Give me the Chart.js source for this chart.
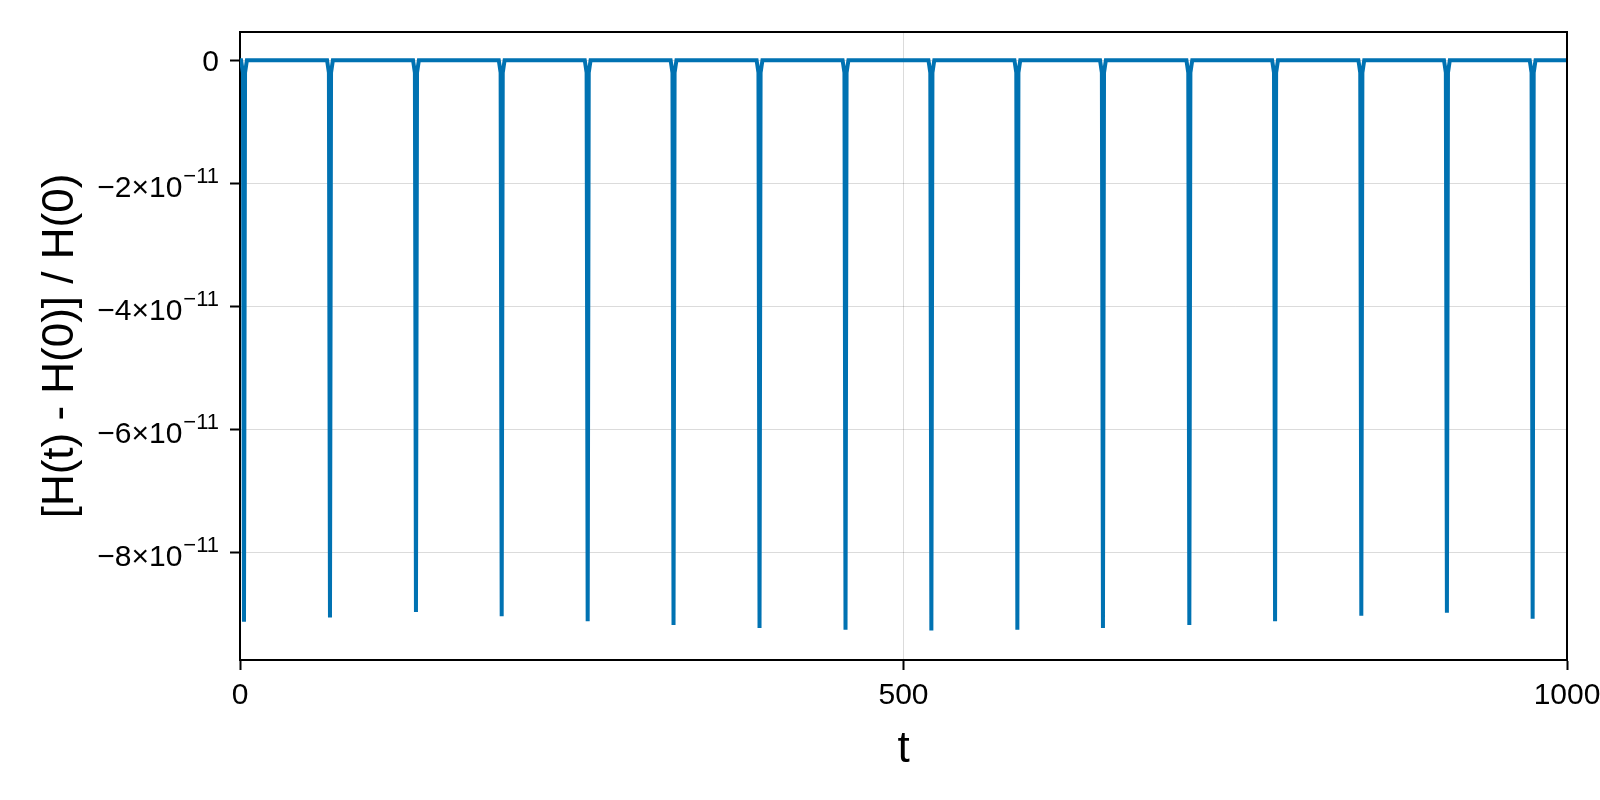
<!DOCTYPE html>
<html lang="en">
<head>
  <meta charset="UTF-8">
  <title>Relative energy error</title>
  <style>
    body {
      margin: 0;
      background: #ffffff;
    }
    #wrap {
      width: 1600px;
      height: 800px;
    }
  </style>
</head>
<body>

<div id="wrap">
  <canvas id="errChart" width="1600" height="800"></canvas>
</div>

<script src="https://cdn.jsdelivr.net/npm/chart.js"></script>
<script>
  // time samples and relative energy error, error in units of 1e-11
  const tVals = [
    0, 0.8, 2.2, 3.0, 3.8, 5.2,
    65.6, 67.0, 67.8, 68.6, 70.0,
    130.4, 131.8, 132.6, 133.4, 134.8,
    195.0, 196.4, 197.2, 198.0, 199.4,
    259.8, 261.2, 262.0, 262.8, 264.2,
    324.5, 325.9, 326.7, 327.5, 328.9,
    389.3, 390.7, 391.5, 392.3, 393.7,
    454.1, 455.5, 456.3, 457.1, 458.5,
    518.8, 520.2, 521.0, 521.8, 523.2,
    583.6, 585.0, 585.8, 586.6, 588.0,
    648.1, 649.5, 650.3, 651.1, 652.5,
    713.2, 714.6, 715.4, 716.2, 717.6,
    777.8, 779.2, 780.0, 780.8, 782.2,
    842.8, 844.2, 845.0, 845.8, 847.2,
    907.3, 908.7, 909.5, 910.3, 911.7,
    971.9, 973.3, 974.1, 974.9, 976.3,
    1000
  ];
  const relErr = [
    0, 0, -0.2, -9.13, -0.2, 0,
    0, -0.2, -9.06, -0.2, 0,
    0, -0.2, -8.97, -0.2, 0,
    0, -0.2, -9.04, -0.2, 0,
    0, -0.2, -9.12, -0.2, 0,
    0, -0.2, -9.18, -0.2, 0,
    0, -0.2, -9.23, -0.2, 0,
    0, -0.2, -9.26, -0.2, 0,
    0, -0.2, -9.27, -0.2, 0,
    0, -0.2, -9.26, -0.2, 0,
    0, -0.2, -9.23, -0.2, 0,
    0, -0.2, -9.18, -0.2, 0,
    0, -0.2, -9.12, -0.2, 0,
    0, -0.2, -9.03, -0.2, 0,
    0, -0.2, -8.98, -0.2, 0,
    0, -0.2, -9.08, -0.2, 0,
    0
  ];
  const xTicks = [0, 500, 1000];
  const yTicks = [-8, -6, -4, -2, 0];
  const yExponent = '−11';

  const FONT = "'Liberation Sans', Arial, sans-serif";

  // y tick labels drawn by hand so the exponent can be a real superscript
  const yLabelPlugin = {
    id: 'yLabels',
    afterDraw(chart) {
      const ctx = chart.ctx;
      const ys = chart.scales.y;
      const rightEdge = 219;
      ctx.save();
      ctx.fillStyle = '#000';
      ctx.textBaseline = 'alphabetic';
      ys.ticks.forEach(tk => {
        const py = ys.getPixelForValue(tk.value);
        if (tk.value === 0) {
          ctx.font = '30px ' + FONT;
          ctx.textAlign = 'right';
          ctx.fillText('0', rightEdge, py + 11);
          return;
        }
        ctx.font = '22px ' + FONT;
        const supW = ctx.measureText(yExponent).width;
        ctx.textAlign = 'left';
        ctx.fillText(yExponent, rightEdge - supW, py);
        ctx.font = '30px ' + FONT;
        ctx.textAlign = 'right';
        const base = (tk.value < 0 ? '−' : '') + Math.abs(tk.value) + '×10';
        ctx.fillText(base, rightEdge - supW - 1, py + 14);
      });
      // top and right frame lines
      const a = chart.chartArea;
      ctx.strokeStyle = '#000';
      ctx.lineWidth = 2;
      ctx.beginPath();
      ctx.moveTo(a.left, a.top);
      ctx.lineTo(a.right, a.top);
      ctx.lineTo(a.right, a.bottom);
      ctx.stroke();
      ctx.restore();
    }
  };

  const points = tVals.map((t, i) => ({ x: t, y: relErr[i] }));

  const ctx = document.getElementById('errChart').getContext('2d');
  const errChart = new Chart(ctx, {
    type: 'line',
    data: {
      datasets: [{
        data: points,
        borderColor: '#0072B2',
        borderWidth: 4,
        pointRadius: 0,
        tension: 0,
        fill: false
      }]
    },
    options: {
      responsive: false,
      animation: false,
      devicePixelRatio: 1,
      layout: { padding: { left: 0, top: 32, right: 33, bottom: 0 } },
      plugins: {
        legend: { display: false },
        tooltip: { enabled: false }
      },
      scales: {
        x: {
          type: 'linear',
          min: 0,
          max: 1000,
          afterBuildTicks: s => { s.ticks = xTicks.map(v => ({ value: v })); },
          afterFit: s => { s.height = 140; s.paddingLeft = 0; s.paddingRight = 0; },
          grid: {
            color: 'rgba(0,0,0,0.14)',
            lineWidth: 1,
            tickColor: '#000',
            tickLength: 10,
            tickWidth: 2
          },
          border: { color: '#000', width: 2 },
          ticks: {
            color: '#000',
            padding: 8,
            maxRotation: 0,
            font: { family: FONT, size: 30 },
            callback: v => String(v)
          },
          title: {
            display: true,
            text: 't',
            color: '#000',
            font: { family: FONT, size: 44 },
            padding: { top: 0, bottom: 24 }
          }
        },
        y: {
          type: 'linear',
          min: -9.75,
          max: 0.46,
          afterBuildTicks: s => { s.ticks = yTicks.map(v => ({ value: v })); },
          afterFit: s => { s.width = 240; s.paddingTop = 0; s.paddingBottom = 0; },
          grid: {
            color: 'rgba(0,0,0,0.14)',
            lineWidth: 1,
            tickColor: '#000',
            tickLength: 10,
            tickWidth: 2
          },
          border: { color: '#000', width: 2 },
          ticks: {
            color: 'rgba(0,0,0,0)',
            font: { family: FONT, size: 30 },
            callback: v => String(v)
          },
          title: {
            display: true,
            text: '[H(t) - H(0)] / H(0)',
            color: '#000',
            font: { family: FONT, size: 44 },
            padding: { top: 34, bottom: 0 }
          }
        }
      }
    },
    plugins: [yLabelPlugin]
  });
</script>

</body>
</html>
